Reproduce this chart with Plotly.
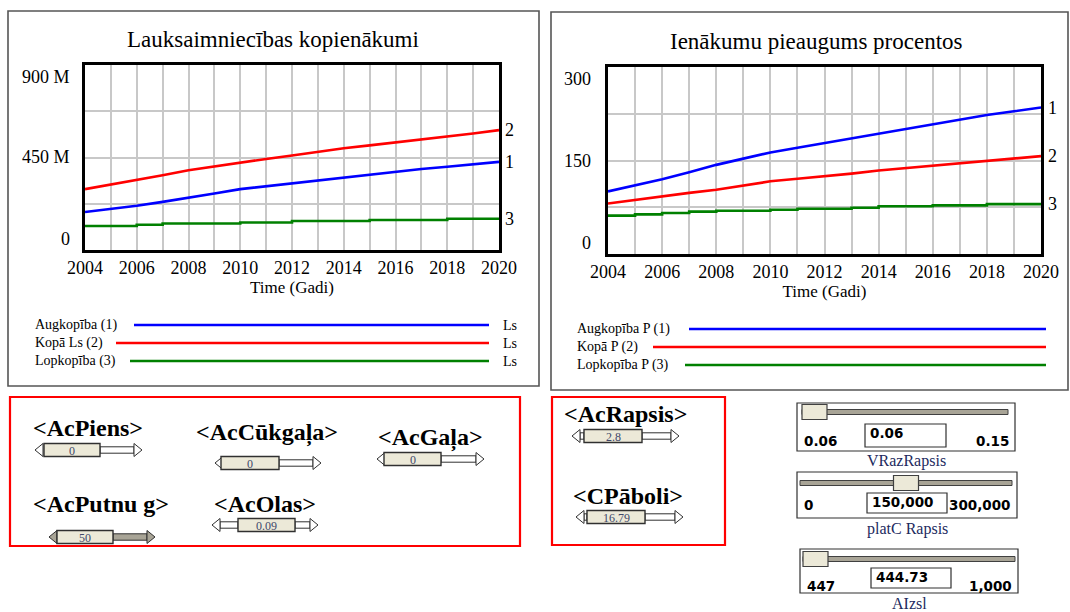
import plotly.graph_objects as go

# ---------------- data ----------------
years = list(range(2004, 2021))
# Lauksaimniecības kopienākumi (millions Ls)
augkopiba_ls = [185, 200, 215, 234, 253, 275, 296, 310, 324, 339, 353, 368, 382, 394, 405, 417, 429]
kopa_ls = [296, 318, 340, 364, 388, 407, 426, 443, 460, 478, 495, 509, 523, 537, 550, 567, 583]
lopkopiba_ls = [117, 117, 123, 129, 129, 129, 134, 134, 141, 141, 141, 146, 146, 146, 152, 152, 152]
# Ienākumu pieaugums procentos
augkopiba_p = [100.5, 110, 120, 131, 143, 153, 163, 170.5, 178, 185.5, 193, 201, 208.5, 216, 223, 229, 235]
kopa_p = [81, 87, 92.5, 98, 103, 110, 116.6, 120.6, 124.6, 129, 134, 138, 141.7, 146, 150, 153.5, 157]
lopkopiba_p = [61.5, 63.6, 65.8, 68, 69.5, 69.5, 71, 72.7, 72.7, 74.3, 76.5, 76.5, 78, 78, 80, 80, 80]

left_title = "Lauksaimniecības kopienākumi"
right_title = "Ienākumu pieaugums procentos"
x_title = "Time (Gadi)"
x_ticks = list(range(2004, 2021, 2))
left_yticks = [0, 450, 900]
left_yticktext = ["0", "450 M", "900 M"]
right_yticks = [0, 150, 300]
right_yticktext = ["0", "150", "300"]
left_legend = ["Augkopība (1)", "Kopā Ls (2)", "Lopkopība (3)"]
right_legend = ["Augkopība P (1)", "Kopā P (2)", "Lopkopība P (3)"]
left_unit = "Ls"
series_numbers = ["1", "2", "3"]

shadow_names = ["<AcPiens>", "<AcCūkgaļa>", "<AcGaļa>", "<AcPutnu g>", "<AcOlas>", "<AcRapsis>", "<CPāboli>"]
shadow_values = ["0", "0", "0", "50", "0.09", "2.8", "16.79"]

slider_names = ["VRazRapsis", "platC Rapsis", "AIzsl"]
slider_min = [0.06, 0, 447]
slider_max = [0.15, 300000, 1000]
slider_value = [0.06, 150000, 444.73]
slider_min_text = ["0.06", "0", "447"]
slider_max_text = ["0.15", "300,000", "1,000"]
slider_value_text = ["0.06", "150,000", "444.73"]

# ---------------- helpers ----------------
W, H = 1070, 612
SERIF = "Liberation Serif, Times New Roman, serif"
SANS = "DejaVu Sans, Arial, sans-serif"
BLUE, RED, GREEN = "#0000ff", "#ff0000", "#008000"
GRID = "#c8c8c8"
BEIGE = "#ece9d8"
EDGE = "#303030"


def X(px):
    return px / W


def Y(py):
    return 1 - py / H


shapes = []
annotations = []


def rect(x0, y0, x1, y1, line="black", lw=1.0, fill=None, layer="above"):
    d = dict(type="rect", xref="paper", yref="paper", x0=X(x0), y0=Y(y1), x1=X(x1), y1=Y(y0),
             line=dict(color=line, width=lw), layer=layer)
    if fill:
        d["fillcolor"] = fill
    shapes.append(d)


def hline(x0, x1, y, color, lw):
    shapes.append(dict(type="line", xref="paper", yref="paper", x0=X(x0), x1=X(x1), y0=Y(y), y1=Y(y),
                       line=dict(color=color, width=lw)))


def poly(pts, fill, line=EDGE, lw=1.0):
    path = "M " + " L ".join(f"{X(a):.5f},{Y(b):.5f}" for a, b in pts) + " Z"
    shapes.append(dict(type="path", xref="paper", yref="paper", path=path, fillcolor=fill,
                       line=dict(color=line, width=lw)))


def text(x, y, s, size, anchor="center", color="black", family=SERIF, bold=False):
    annotations.append(dict(xref="paper", yref="paper", x=X(x), y=Y(y), text=(f"<b>{s}</b>" if bold else s),
                            showarrow=False, xanchor=anchor, yanchor="middle",
                            font=dict(size=size, color=color, family=family)))


# ---------------- traces ----------------
fig = go.Figure()
left_series = [(augkopiba_ls, BLUE, "linear"), (kopa_ls, RED, "linear"), (lopkopiba_ls, GREEN, "hv")]
right_series = [(augkopiba_p, BLUE, "linear"), (kopa_p, RED, "linear"), (lopkopiba_p, GREEN, "hv")]
for vals, col, shp in left_series:
    fig.add_trace(go.Scatter(x=years, y=[v * 1e6 for v in vals], mode="lines", xaxis="x", yaxis="y",
                             line=dict(color=col, width=2.6, shape=shp), showlegend=False, hoverinfo="skip"))
for vals, col, shp in right_series:
    fig.add_trace(go.Scatter(x=years, y=vals, mode="lines", xaxis="x2", yaxis="y2",
                             line=dict(color=col, width=2.6, shape=shp), showlegend=False, hoverinfo="skip"))

# series end numbers
for (vals, col, shp), num in zip(left_series, series_numbers):
    annotations.append(dict(xref="x", yref="y", x=years[-1], y=vals[-1] * 1e6, text=num, showarrow=False,
                            xanchor="left", yanchor="middle", xshift=4, font=dict(size=18, family=SERIF, color="black")))
for (vals, col, shp), num in zip(right_series, series_numbers):
    annotations.append(dict(xref="x2", yref="y2", x=years[-1], y=vals[-1], text=num, showarrow=False,
                            xanchor="left", yanchor="middle", xshift=5, font=dict(size=18, family=SERIF, color="black")))

# y tick labels (Vensim style: top label below the top line, bottom label above the base)
label_shift = [11, 0, -12]
for v, t, s in zip(left_yticks, left_yticktext, label_shift):
    annotations.append(dict(xref="paper", yref="y", x=X(72), y=v * 1e6, text=t, showarrow=False,
                            xanchor="right", yanchor="middle", yshift=s,
                            font=dict(size=18, family=SERIF, color="black")))
for v, t, s in zip(right_yticks, right_yticktext, label_shift):
    annotations.append(dict(xref="paper", yref="y2", x=X(593), y=v, text=t, showarrow=False,
                            xanchor="right", yanchor="middle", yshift=s,
                            font=dict(size=18, family=SERIF, color="black")))

xaxis_common = dict(range=[2004, 2020], tickmode="array", tickvals=x_ticks, ticks="",
                    showgrid=True, gridcolor=GRID, gridwidth=1.5,
                    minor=dict(tickmode="array", tickvals=[y for y in years if y not in x_ticks],
                               showgrid=True, gridcolor=GRID, gridwidth=1.5, ticks=""),
                    showline=True, mirror=True, linecolor="black", linewidth=2.5, zeroline=False,
                    tickfont=dict(size=18, family=SERIF, color="black"),
                    title=dict(text=x_title, font=dict(size=17, family=SERIF, color="black"), standoff=2),
                    automargin=False, fixedrange=True)
yaxis_common = dict(tickmode="array", ticks="", showgrid=True, gridcolor=GRID, gridwidth=1.5,
                    showline=True, mirror=True, linecolor="black", linewidth=2.5, zeroline=False,
                    showticklabels=False, automargin=False, fixedrange=True)

fig.update_layout(
    xaxis=dict(xaxis_common, domain=[X(85), X(499)], anchor="y"),
    yaxis=dict(yaxis_common, domain=[Y(250), Y(65)], anchor="x", range=[0, 900e6],
               tickvals=[v * 1e6 for v in left_yticks], ticktext=left_yticktext,
               minor=dict(tickmode="array", tickvals=[225e6, 675e6], showgrid=True, gridcolor=GRID,
                          gridwidth=1.5, ticks="")),
    xaxis2=dict(xaxis_common, domain=[X(608), X(1041)], anchor="y2"),
    yaxis2=dict(yaxis_common, domain=[Y(254), Y(67)], anchor="x2", range=[0, 300],
                tickvals=right_yticks, ticktext=right_yticktext,
                minor=dict(tickmode="array", tickvals=[75, 225], showgrid=True, gridcolor=GRID,
                           gridwidth=1.5, ticks="")),
)

# ---------------- panels ----------------
rect(8, 11, 539, 386, line="#555555", lw=1.6, layer="below")
rect(551, 12, 1068, 390, line="#555555", lw=1.6, layer="below")
text(273, 39, left_title, 23)
text(816, 42, right_title, 23)

# legends
left_leg_y = [325, 343, 361]
left_leg_x0 = [134, 116, 130]
for lbl, y, x0, col in zip(left_legend, left_leg_y, left_leg_x0, [BLUE, RED, GREEN]):
    text(33, y, lbl, 14, anchor="left")
    hline(x0, 489, y, col, 2.5)
    text(501, y, left_unit, 14, anchor="left")
right_leg_y = [329, 347, 365]
right_leg_x0 = [689, 653, 685]
for lbl, y, x0, col in zip(right_legend, right_leg_y, right_leg_x0, [BLUE, RED, GREEN]):
    text(575, y, lbl, 14, anchor="left")
    hline(x0, 1046, y, col, 2.5)

# ---------------- shadow variable widgets ----------------
rect(10, 397, 520, 546, line="#ff0000", lw=2.2)
rect(552, 397, 725, 545, line="#ff0000", lw=2.2)

# (label center x, label y, arrow left, arrow right, arrow y, box left, box right, filled)
widget_layout = [
    (88, 428, 35, 142, 450, 44, 100, False),
    (267, 433, 215, 321, 463, 221, 279, False),
    (430, 438, 377, 484, 459, 384, 441, False),
    (101, 504, 49, 155, 537, 57, 113, True),
    (265, 504, 212, 318, 525, 238, 295, False),
    (625, 414, 572, 679, 436, 584, 642, False),
    (628, 496, 576, 683, 517, 587, 645, False),
]
for name, val, (lx, ly, xl, xr, yc, b0, b1, filled) in zip(shadow_names, shadow_values, widget_layout):
    text(lx, ly, name.replace("<", "&lt;").replace(">", "&gt;"), 24, bold=True)
    fill = "#a8a496" if filled else "white"
    hl, hh, sh = 8, 6.5, 3.2
    if b0 - xl > hl + 1:
        rect(xl + hl, yc - sh, b0, yc + sh, line=EDGE, lw=1, fill=fill)
    if xr - b1 > hl + 1:
        rect(b1, yc - sh, xr - hl, yc + sh, line=EDGE, lw=1, fill=fill)
    poly([(xl, yc), (xl + hl, yc - hh), (xl + hl, yc + hh)], fill)
    poly([(xr, yc), (xr - hl, yc - hh), (xr - hl, yc + hh)], fill)
    rect(b0, yc - 6.5, b1, yc + 6.5, line=EDGE, lw=1.4, fill=BEIGE)
    text((b0 + b1) / 2, yc + 0.5, val, 12, color="#40486a")

# ---------------- sliders ----------------
# (frame x0, x1, y0, y1, track x0, x1, track y, value box x0, x1, y0, y1, text row y, label y)
slider_layout = [
    (797, 1015, 403, 451, 802, 1008, 412, 865, 946, 424, 447, 441, 461),
    (797, 1017, 472, 518, 800, 1012, 483, 867, 947, 493, 513, 505, 529),
    (800, 1018, 549, 593, 803, 1015, 559, 871, 951, 568, 588, 586, 603),
]
for i, (fx0, fx1, fy0, fy1, tx0, tx1, ty, vx0, vx1, vy0, vy1, ry, lby) in enumerate(slider_layout):
    rect(fx0, fy0, fx1, fy1, line=EDGE, lw=1.2, fill="white")
    rect(tx0, ty - 2.5, tx1, ty + 2.5, line="#404040", lw=1, fill="#a8a496")
    frac = (slider_value[i] - slider_min[i]) / (slider_max[i] - slider_min[i])
    frac = max(0.0, min(1.0, frac))
    th0 = tx0 + frac * (tx1 - tx0 - 25)
    rect(th0, ty - 7.5, th0 + 25, ty + 7.5, line="#404040", lw=1.2, fill=BEIGE)
    rect(vx0, vy0, vx1, vy1, line=EDGE, lw=1.2, fill="white")
    text(vx0 + 3, vy0 + 9, slider_value_text[i], 13.5, anchor="left", family=SANS, bold=True)
    text(fx0 + 5, ry, slider_min_text[i], 13.5, anchor="left", family=SANS, bold=True)
    text(fx1 - 4, ry, slider_max_text[i], 13.5, anchor="right", family=SANS, bold=True)
    text((fx0 + fx1) / 2, lby, slider_names[i], 16, color="#1c2a5e")

fig.update_layout(
    width=W, height=H, margin=dict(l=0, r=0, t=0, b=0, autoexpand=False),
    paper_bgcolor="white", plot_bgcolor="white",
    shapes=shapes, annotations=annotations, showlegend=False,
)
fig.write_html("out.html", config={"displayModeBar": False},
               post_script="document.body.style.margin='0';document.body.style.overflow='hidden';")
